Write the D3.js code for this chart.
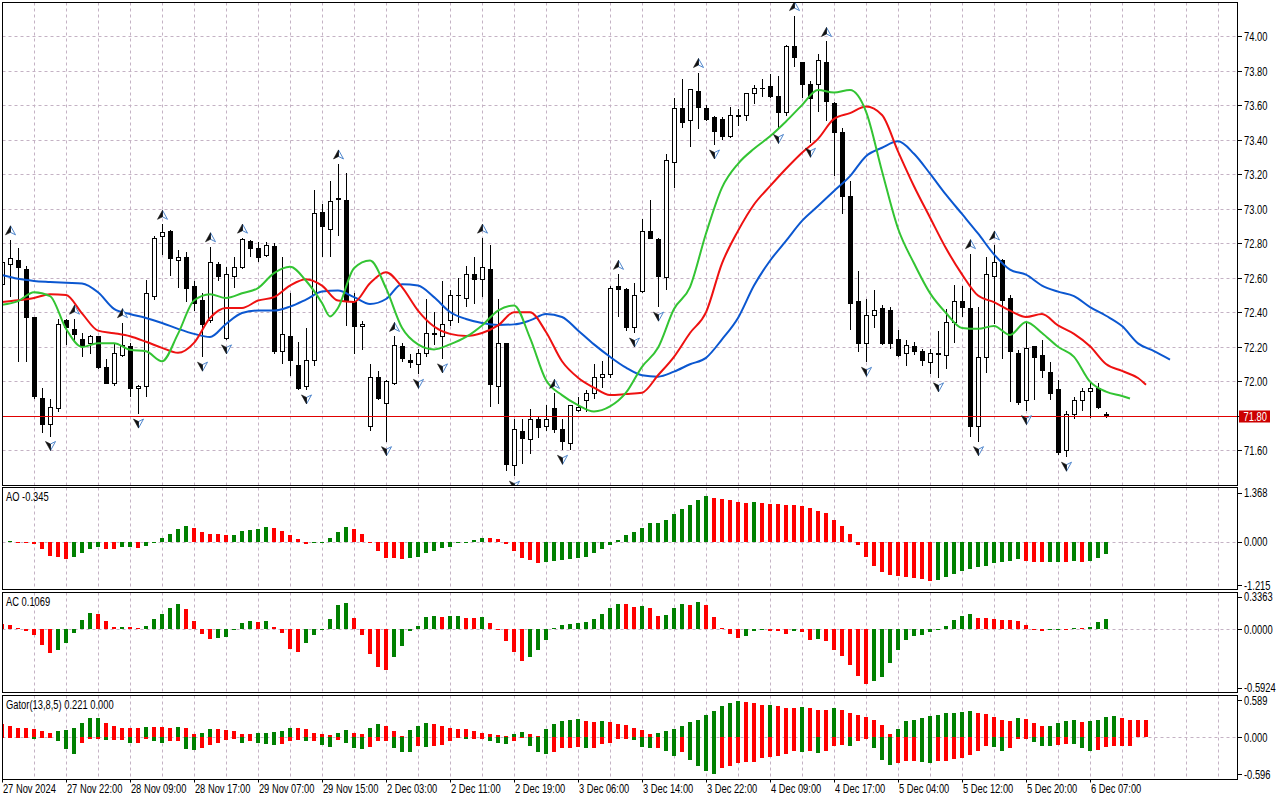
<!DOCTYPE html>
<html>
<head>
<meta charset="utf-8">
<script src="https://cdn.jsdelivr.net/npm/d3@7"></script>
<style>
  body { margin: 0; background: #fff; }
  svg { display: block; }
  text { font-family: "Liberation Sans", Arial, sans-serif; font-size: 12px; fill: #000; }
</style>
</head>
<body>
<svg id="chart" width="1280" height="800"></svg>
<script>
"use strict";

// ---- price data (H1 candles) ----
const opens = [72.56,72.68,72.70,72.65,72.37,71.90,71.75,71.84,72.35,72.30,
  72.24,72.22,72.26,72.08,71.99,72.15,72.20,71.96,71.97,72.49,
  72.84,72.87,72.70,72.72,72.55,72.47,72.35,72.68,72.25,72.61,
  72.66,72.81,72.77,72.73,72.78,72.17,72.26,72.09,71.97,72.12,
  72.98,72.88,73.06,73.05,72.46,72.32,71.74,72.02,71.87,71.99,
  72.20,72.12,72.10,72.16,72.27,72.26,72.35,72.50,72.48,72.62,
  72.59,72.65,71.97,72.22,71.51,71.71,71.66,71.78,71.74,71.84,
  71.72,71.64,71.83,71.89,71.93,72.02,72.04,72.55,72.53,72.31,
  72.52,72.87,72.82,72.60,73.27,73.58,73.51,73.68,73.58,73.53,
  73.52,73.42,73.54,73.54,73.67,73.70,73.71,73.65,73.56,73.94,
  73.85,73.72,73.72,73.85,73.61,73.44,73.07,72.46,72.22,72.38,
  72.42,72.41,72.24,72.16,72.20,72.17,72.11,72.16,72.15,72.34,
  72.46,72.42,71.74,72.14,72.61,72.70,72.48,72.16,71.89,72.20,
  72.15,72.05,71.95,71.60,71.81,71.89,71.94,71.96,71.81];
const highs = [72.70,72.82,72.77,72.67,72.37,71.96,71.90,72.36,72.36,72.36,
  72.28,72.27,72.26,72.13,72.22,72.34,72.22,71.98,72.59,72.84,
  72.91,72.88,72.76,72.75,72.58,72.51,72.78,72.69,72.66,72.72,
  72.83,72.82,72.81,72.81,72.80,72.72,72.51,72.23,72.31,73.11,
  73.03,73.16,73.26,73.21,72.51,72.35,72.10,72.06,72.01,72.26,
  72.22,72.16,72.19,72.48,72.40,72.58,72.53,72.60,72.67,72.72,
  72.83,72.79,72.48,72.22,71.78,71.78,71.84,71.80,71.86,71.93,
  71.78,71.86,71.91,71.95,72.10,72.12,72.55,72.62,72.54,72.57,
  72.94,73.05,72.83,73.32,73.64,73.75,73.69,73.79,73.60,73.54,
  73.53,73.59,73.58,73.67,73.72,73.75,73.78,73.77,73.95,74.12,
  73.85,73.74,73.90,73.97,73.62,73.47,73.16,72.64,72.48,72.53,
  72.44,72.43,72.30,72.24,72.23,72.19,72.19,72.29,72.42,72.56,
  72.55,72.74,72.43,72.72,72.79,72.71,72.50,72.18,72.34,72.20,
  72.24,72.11,72.01,71.83,71.91,71.96,71.99,71.99,71.82];
const lows = [72.55,72.49,72.11,72.11,71.90,71.70,71.68,71.82,72.21,72.23,
  72.14,72.16,72.07,71.99,71.97,72.14,71.91,71.81,71.91,72.47,
  72.73,72.61,72.54,72.46,72.41,72.14,72.34,72.58,72.24,72.54,
  72.65,72.72,72.69,72.72,72.16,72.10,72.03,71.95,71.95,72.09,
  72.72,72.72,72.84,72.32,72.16,72.18,71.71,71.89,71.65,71.98,
  72.11,72.08,72.04,72.14,72.21,72.13,72.32,72.34,72.43,72.45,
  72.49,71.85,71.87,71.48,71.45,71.52,71.58,71.67,71.71,71.70,
  71.60,71.60,71.82,71.82,71.90,71.96,72.02,72.37,72.29,72.28,
  72.51,72.83,72.43,72.53,73.12,73.47,73.36,73.46,73.51,73.37,
  73.40,73.41,73.48,73.51,73.61,73.65,73.64,73.46,73.54,73.82,
  73.64,73.38,73.56,73.51,73.19,72.97,72.30,72.17,72.11,72.31,
  72.21,72.19,72.14,72.09,72.15,72.09,72.04,72.02,72.07,72.22,
  72.37,71.68,71.65,72.05,72.33,72.13,71.88,71.86,71.83,71.89,
  72.02,71.89,71.57,71.56,71.78,71.83,71.79,71.84,71.79];
const closes = [72.69,72.71,72.66,72.37,71.91,71.75,71.85,72.33,72.31,72.27,
  72.20,72.26,72.08,71.99,72.16,72.21,71.96,71.97,72.51,72.83,
  72.86,72.71,72.72,72.54,72.45,72.33,72.69,72.61,72.62,72.66,
  72.82,72.77,72.72,72.79,72.17,72.27,72.12,71.96,72.12,72.97,
  72.90,73.04,73.06,72.46,72.32,72.33,72.02,71.90,72.00,72.21,
  72.13,72.11,72.16,72.28,72.28,72.33,72.50,72.50,72.62,72.59,
  72.66,71.98,72.22,71.52,71.72,71.67,71.78,71.73,71.78,71.72,
  71.65,71.86,71.85,71.93,72.02,72.04,72.54,72.53,72.31,72.50,
  72.87,72.83,72.61,73.28,73.58,73.50,73.69,73.59,73.52,73.45,
  73.42,73.54,73.54,73.67,73.70,73.70,73.65,73.56,73.94,73.88,
  73.72,73.64,73.86,73.62,73.44,73.07,72.45,72.22,72.38,72.41,
  72.22,72.22,72.15,72.21,72.17,72.12,72.16,72.16,72.34,72.46,
  72.43,71.74,72.14,72.62,72.69,72.47,72.17,71.88,72.19,72.14,
  72.06,71.93,71.59,71.81,71.89,71.94,71.96,71.85,71.80];
const lastPrice = 71.80;

// ---- Alligator lines: [bar, price] ----
const jaw = [[0,72.616],[2,72.594],[4,72.582],[6,72.576],[8,72.571],[10,72.567],[12,72.516],[14,72.42],
  [16,72.39],[18,72.367],[20,72.338],[22,72.304],[24,72.275],[26,72.257],[28,72.332],[30,72.396],
  [32,72.41],[34,72.41],[36,72.433],[38,72.474],[40,72.52],[42,72.526],[44,72.488],[46,72.448],
  [48,72.477],[50,72.563],[52,72.555],[54,72.488],[56,72.402],[58,72.361],[60,72.338],[62,72.327],
  [64,72.33],[66,72.353],[68,72.39],[70,72.373],[72,72.295],[74,72.214],[76,72.142],[78,72.079],
  [80,72.035],[82,72.027],[84,72.056],[86,72.099],[88,72.136],[90,72.243],[92,72.367],[94,72.555],
  [96,72.699],[98,72.814],[100,72.93],[102,73.016],[104,73.103],[106,73.189],[108,73.305],[110,73.354],
  [112,73.391],[114,73.319],[116,73.204],[118,73.082],[120,72.97],[122,72.857],[124,72.736],[126,72.647],
  [128,72.618],[130,72.555],[132,72.52],[134,72.494],[136,72.43],[138,72.38],[140,72.32],[142,72.22],
  [144,72.175],[146,72.126]];
const teeth = [[0,72.46],[2,72.47],[4,72.483],[6,72.505],[8,72.50],[10,72.394],[12,72.294],[14,72.279],
  [16,72.261],[18,72.229],[20,72.194],[22,72.165],[24,72.223],[26,72.367],[28,72.425],[30,72.425],
  [32,72.468],[34,72.488],[36,72.555],[38,72.592],[40,72.555],[42,72.468],[44,72.46],[46,72.569],
  [48,72.632],[50,72.546],[52,72.41],[54,72.318],[56,72.275],[58,72.263],[60,72.28],[62,72.324],
  [64,72.40],[66,72.40],[68,72.286],[70,72.116],[72,72.021],[74,71.963],[76,71.92],[78,71.926],
  [80,71.934],[82,72.035],[84,72.142],[86,72.28],[88,72.40],[90,72.684],[92,72.872],[94,73.025],
  [96,73.131],[98,73.232],[100,73.325],[102,73.405],[104,73.521],[106,73.555],[108,73.593],[110,73.544],
  [112,73.333],[114,73.131],[116,72.95],[118,72.771],[120,72.62],[122,72.497],[124,72.459],[126,72.41],
  [128,72.373],[130,72.39],[132,72.324],[134,72.275],[136,72.203],[138,72.10],[140,72.06],[142,72.019],
  [143,71.98]];
const lips = [[0,72.443],[2,72.465],[4,72.516],[6,72.494],[8,72.305],[10,72.199],[12,72.221],[14,72.221],
  [16,72.183],[18,72.174],[20,72.116],[22,72.275],[24,72.468],[26,72.505],[28,72.483],[30,72.51],
  [32,72.54],[34,72.627],[36,72.664],[38,72.583],[40,72.454],[41,72.376],[42,72.425],[44,72.655],
  [46,72.70],[48,72.54],[50,72.31],[52,72.214],[54,72.185],[56,72.214],[58,72.257],[60,72.324],
  [62,72.41],[64,72.44],[66,72.252],[68,72.007],[70,71.92],[72,71.862],[74,71.825],[76,71.854],
  [78,71.934],[80,72.084],[82,72.194],[84,72.419],[86,72.546],[88,72.857],[90,73.123],[92,73.261],
  [94,73.348],[96,73.42],[98,73.506],[100,73.601],[102,73.688],[104,73.674],[106,73.688],[108,73.564],
  [110,73.218],[112,72.886],[114,72.684],[116,72.511],[118,72.396],[120,72.309],[122,72.304],[124,72.321],
  [126,72.269],[128,72.344],[130,72.28],[132,72.20],[134,72.142],[136,71.998],[138,71.94],[140,71.915],
  [141,71.90]];

// ---- Fractals (bar indexes) ----
const fractalUp = [1, 9, 15, 20, 26, 30, 42, 49, 60, 69, 77, 87, 99, 103, 121, 124];
const fractalDown = [6, 17, 25, 28, 38, 48, 52, 55, 64, 70, 79, 82, 89, 97, 101, 108, 117, 122, 128, 133];

// ---- Awesome Oscillator ----
const aoValues = [0.00,0.02,-0.01,-0.01,-0.065,-0.22,-0.39,-0.44,-0.48,-0.44,
  -0.33,-0.21,-0.16,-0.20,-0.22,-0.165,-0.16,-0.19,-0.12,-0.01,
  0.09,0.21,0.35,0.43,0.38,0.26,0.21,0.21,0.18,0.19,
  0.29,0.32,0.36,0.40,0.38,0.29,0.18,0.06,-0.07,-0.05,
  -0.01,0.11,0.28,0.42,0.36,0.22,-0.01,-0.25,-0.45,-0.47,
  -0.50,-0.45,-0.42,-0.31,-0.25,-0.19,-0.14,-0.04,-0.01,0.04,
  0.11,0.105,0.06,-0.07,-0.25,-0.45,-0.52,-0.61,-0.57,-0.53,
  -0.51,-0.50,-0.47,-0.42,-0.33,-0.22,-0.10,0.04,0.19,0.28,
  0.39,0.52,0.53,0.61,0.78,0.92,1.03,1.17,1.28,1.23,
  1.18,1.17,1.11,1.09,1.10,1.09,1.06,1.06,1.03,1.03,
  1.00,0.95,0.86,0.81,0.61,0.45,0.22,-0.10,-0.42,-0.67,
  -0.84,-0.93,-0.97,-1.00,-1.03,-1.04,-1.09,-1.07,-1.00,-0.91,
  -0.82,-0.77,-0.72,-0.67,-0.60,-0.56,-0.53,-0.49,-0.53,-0.56,
  -0.58,-0.57,-0.56,-0.565,-0.55,-0.56,-0.53,-0.45,-0.345];

// ---- Accelerator Oscillator ----
const acValues = [0.055,0.05,0.014,-0.014,-0.058,-0.16,-0.24,-0.21,-0.14,-0.037,
  0.092,0.17,0.16,0.085,0.02,0.025,0.02,0.014,0.035,0.11,
  0.16,0.22,0.26,0.21,0.09,-0.05,-0.10,-0.086,-0.076,0.005,
  0.07,0.09,0.08,0.09,0.03,-0.035,-0.20,-0.23,-0.14,-0.06,
  -0.01,0.11,0.25,0.27,0.12,-0.06,-0.25,-0.385,-0.41,-0.28,
  -0.17,-0.02,0.04,0.13,0.14,0.13,0.137,0.14,0.12,0.12,
  0.125,0.07,-0.005,-0.12,-0.23,-0.32,-0.28,-0.21,-0.11,0.01,
  0.05,0.06,0.07,0.075,0.11,0.16,0.22,0.26,0.255,0.23,
  0.235,0.22,0.14,0.15,0.22,0.26,0.25,0.28,0.25,0.13,
  0.01,-0.05,-0.09,-0.07,-0.02,-0.01,-0.012,-0.02,-0.05,-0.02,
  -0.025,-0.11,-0.10,-0.12,-0.21,-0.27,-0.36,-0.48,-0.56,-0.53,
  -0.49,-0.34,-0.21,-0.11,-0.07,-0.06,-0.03,-0.01,0.04,0.10,
  0.14,0.16,0.12,0.118,0.11,0.10,0.098,0.09,0.05,-0.01,
  -0.02,-0.01,-0.005,-0.008,0.015,0.01,0.03,0.08,0.1069];

// ---- Gator Oscillator ----
const gatorUpper = [0.21,0.18,0.15,0.14,0.12,0.10,0.07,0.09,0.11,0.15,
  0.22,0.30,0.31,0.23,0.17,0.15,0.15,0.15,0.16,0.16,
  0.16,0.15,0.16,0.14,0.05,0.07,0.13,0.13,0.11,0.10,
  0.05,0.05,0.06,0.07,0.08,0.10,0.14,0.14,0.12,0.06,
  0.05,0.03,0.06,0.11,0.06,0.05,0.14,0.20,0.18,0.10,
  0.02,0.11,0.18,0.23,0.20,0.18,0.14,0.12,0.12,0.10,
  0.06,0.05,0.03,0.02,0.05,0.08,0.05,0.02,0.13,0.21,
  0.26,0.28,0.29,0.26,0.24,0.26,0.24,0.21,0.19,0.14,
  0.11,0.05,0.07,0.10,0.12,0.18,0.24,0.27,0.36,0.42,
  0.50,0.54,0.58,0.56,0.54,0.51,0.52,0.50,0.46,0.46,
  0.48,0.46,0.43,0.43,0.46,0.43,0.38,0.36,0.32,0.28,
  0.19,0.05,0.12,0.26,0.28,0.31,0.34,0.36,0.38,0.39,
  0.40,0.41,0.38,0.37,0.32,0.27,0.26,0.30,0.29,0.22,
  0.17,0.18,0.22,0.26,0.265,0.24,0.25,0.28,0.32,0.33,
  0.31,0.28,0.27,0.265];
const gatorLower = [-0.01,-0.01,-0.01,-0.01,-0.04,-0.01,-0.01,-0.07,-0.19,-0.27,
  -0.10,-0.04,-0.03,-0.05,-0.05,-0.05,-0.09,-0.09,-0.04,-0.06,
  -0.10,-0.06,-0.06,-0.20,-0.21,-0.18,-0.13,-0.10,-0.05,-0.04,
  -0.09,-0.06,-0.09,-0.12,-0.13,-0.12,-0.06,-0.05,-0.07,-0.06,
  -0.13,-0.16,-0.05,-0.09,-0.18,-0.20,-0.16,-0.06,-0.06,-0.18,
  -0.24,-0.25,-0.14,-0.16,-0.14,-0.13,-0.06,-0.02,-0.03,-0.03,
  -0.03,-0.07,-0.09,-0.12,-0.06,-0.02,-0.14,-0.24,-0.27,-0.24,
  -0.18,-0.18,-0.16,-0.18,-0.18,-0.12,-0.10,-0.04,-0.04,-0.05,
  -0.16,-0.18,-0.18,-0.22,-0.30,-0.24,-0.37,-0.46,-0.55,-0.59,
  -0.50,-0.46,-0.42,-0.40,-0.40,-0.34,-0.32,-0.30,-0.28,-0.22,
  -0.24,-0.22,-0.26,-0.22,-0.14,-0.13,-0.14,-0.06,-0.03,-0.18,
  -0.37,-0.45,-0.42,-0.38,-0.38,-0.40,-0.42,-0.38,-0.38,-0.36,
  -0.34,-0.29,-0.22,-0.14,-0.16,-0.22,-0.18,-0.04,-0.03,-0.08,
  -0.14,-0.15,-0.13,-0.11,-0.12,-0.18,-0.23,-0.21,-0.16,-0.15,
  -0.14,-0.14];

// ---- axis labels ----
const priceTicks = [71.60,71.80,72.00,72.20,72.40,72.60,72.80,73.00,73.20,73.40,73.60,73.80,74.00];
const aoTicks = [1.368, 0, -1.215];
const acTicks = [0.3363, 0, -0.5924];
const gatorTicks = [0.589, 0, -0.596];
const timeLabels = ["27 Nov 2024","27 Nov 22:00","28 Nov 09:00","28 Nov 17:00","29 Nov 07:00",
  "29 Nov 15:00","2 Dec 03:00","2 Dec 11:00","2 Dec 19:00","3 Dec 06:00","3 Dec 14:00",
  "3 Dec 22:00","4 Dec 09:00","4 Dec 17:00","5 Dec 04:00","5 Dec 12:00","5 Dec 20:00","6 Dec 07:00"];

// ---- layout ----
const LEFT = 2.5, RIGHT = 1237.5;
const panes = {
  main:  {top: 2.5,   bottom: 485.5},
  ao:    {top: 487.5, bottom: 589.5},
  ac:    {top: 592.5, bottom: 692.5},
  gator: {top: 695.5, bottom: 779.5}
};
const GREEN = "#008000", RED = "#ff0000";
const gridColor = "#c4b2c4";
const textScale = 0.78;

const svg = d3.select("#chart");

const xBar = d3.scaleLinear().domain([0, 138]).range([2, 1106]);
const yPrice = d3.scaleLinear().domain([71.60, 74.00]).range([450.3, 36.3]);
const yAO = d3.scaleLinear().domain([-1.215, 1.368]).range([585, 492.7]);
const yAC = d3.scaleLinear().domain([-0.5924, 0.3363]).range([687.5, 596.5]);
const yGator = d3.scaleLinear().domain([-0.596, 0.589]).range([774, 700.3]);

const candles = opens.map((o, i) => ({i, o, h: highs[i], l: lows[i], c: closes[i]}));
const gridBars = d3.range(4, 153, 4);
const labelBars = timeLabels.map((t, i) => i * 8);

const defs = svg.append("defs");
Object.entries(panes).forEach(([name, p]) => {
  defs.append("clipPath").attr("id", "clip-" + name)
    .append("rect").attr("x", LEFT).attr("y", p.top)
    .attr("width", RIGHT - LEFT).attr("height", p.bottom - p.top);
});

function paneGroup(name) {
  return svg.append("g").attr("clip-path", `url(#clip-${name})`);
}

function drawVerticalGrid(g, p) {
  g.append("g").selectAll("line").data(gridBars).join("line")
    .attr("x1", d => Math.round(xBar(d)) + 0.5).attr("x2", d => Math.round(xBar(d)) + 0.5)
    .attr("y1", p.top).attr("y2", p.bottom)
    .attr("stroke", gridColor).attr("stroke-dasharray", "3,3");
}

function drawHorizontalGrid(g, values, scale) {
  g.append("g").selectAll("line").data(values).join("line")
    .attr("x1", LEFT).attr("x2", RIGHT)
    .attr("y1", d => Math.round(scale(d)) + 0.5).attr("y2", d => Math.round(scale(d)) + 0.5)
    .attr("stroke", gridColor).attr("stroke-dasharray", "3,3");
}

function squeezeText(sel) {
  sel.selectAll("text").attr("transform", `scale(${textScale},1)`);
}

// ---- main pane ----
const mainG = paneGroup("main");
drawVerticalGrid(mainG, panes.main);
drawHorizontalGrid(mainG, priceTicks, yPrice);

const candleG = mainG.append("g").attr("shape-rendering", "crispEdges");
candleG.selectAll("line.wick").data(candles).join("line")
  .attr("class", "wick")
  .attr("x1", d => xBar(d.i) + 0.5).attr("x2", d => xBar(d.i) + 0.5)
  .attr("y1", d => yPrice(d.h)).attr("y2", d => yPrice(d.l))
  .attr("stroke", "#000");
candleG.selectAll("rect.body").data(candles).join("rect")
  .attr("class", "body")
  .attr("x", d => xBar(d.i) - 1.5)
  .attr("width", 4)
  .attr("y", d => yPrice(Math.max(d.o, d.c)))
  .attr("height", d => Math.max(0.6, Math.abs(yPrice(d.o) - yPrice(d.c))))
  .attr("fill", d => d.c >= d.o ? "#fff" : "#000")
  .attr("stroke", "#000");

// current price line
mainG.append("line")
  .attr("x1", LEFT).attr("x2", RIGHT)
  .attr("y1", Math.round(yPrice(lastPrice)) + 0.5).attr("y2", Math.round(yPrice(lastPrice)) + 0.5)
  .attr("stroke", "#e00000");

// alligator
const priceLine = d3.line().x(d => xBar(d[0])).y(d => yPrice(d[1])).curve(d3.curveMonotoneX);
[[jaw, "#0b57d0"], [teeth, "#ee1111"], [lips, "#33c433"]].forEach(([data, color]) => {
  mainG.append("path").datum(data)
    .attr("d", priceLine)
    .attr("fill", "none").attr("stroke", color).attr("stroke-width", 2)
    .attr("stroke-linejoin", "round");
});

// fractals: dark left half, blue-outlined right half
function drawFractals(bars, priceOf, offset, flip) {
  const s = flip ? -1 : 1;
  const g = mainG.append("g").selectAll("g").data(bars).join("g")
    .attr("transform", d => `translate(${xBar(d) + 0.5},${yPrice(priceOf(d)) + offset})`);
  g.append("path")
    .attr("d", `M0,${-5 * s} L5,${4 * s} L0,${1.5 * s} Z`)
    .attr("fill", "#fff").attr("stroke", "#4f86cc").attr("stroke-width", 1)
    .attr("stroke-linejoin", "round");
  g.append("path")
    .attr("d", `M0,${-5 * s} L-5,${4 * s} L0,${1.5 * s} Z`)
    .attr("fill", "#111").attr("stroke", "#111").attr("stroke-width", 0.6)
    .attr("stroke-linejoin", "round");
}
drawFractals(fractalUp, d => highs[d], -9, false);
drawFractals(fractalDown, d => lows[d], 9, true);

// ---- oscillator panes ----
function risingColor(arr, i) { return i > 0 && arr[i] > arr[i - 1] ? GREEN : RED; }
function widerColor(arr, i) { return i > 0 && Math.abs(arr[i]) > Math.abs(arr[i - 1]) ? GREEN : RED; }

function drawHist(g, values, scale, colorFn) {
  const zero = scale(0);
  g.append("g").attr("shape-rendering", "crispEdges")
    .selectAll("rect").data(values).join("rect")
    .attr("x", (d, i) => xBar(i) - 2)
    .attr("width", 4)
    .attr("y", d => Math.min(zero, scale(d)))
    .attr("height", d => d === 0 ? 0 : Math.max(1, Math.abs(scale(d) - zero)))
    .attr("fill", (d, i) => colorFn(values, i));
}

function paneTitle(p, label) {
  svg.append("text")
    .attr("transform", `translate(6,${p.top + 13.5}) scale(${textScale},1)`)
    .text(label);
}

const aoG = paneGroup("ao");
drawVerticalGrid(aoG, panes.ao);
drawHorizontalGrid(aoG, [0], yAO);
drawHist(aoG, aoValues, yAO, risingColor);
paneTitle(panes.ao, "AO -0.345");

const acG = paneGroup("ac");
drawVerticalGrid(acG, panes.ac);
drawHorizontalGrid(acG, [0], yAC);
drawHist(acG, acValues, yAC, risingColor);
paneTitle(panes.ac, "AC 0.1069");

const gatorG = paneGroup("gator");
drawVerticalGrid(gatorG, panes.gator);
drawHorizontalGrid(gatorG, [0], yGator);
drawHist(gatorG, gatorUpper, yGator, widerColor);
drawHist(gatorG, gatorLower, yGator, widerColor);
paneTitle(panes.gator, "Gator(13,8,5) 0.221 0.000");

// ---- right-hand scales ----
function rightAxis(scale, ticks, digits) {
  const axis = d3.axisRight(scale).tickValues(ticks).tickSize(4).tickPadding(2)
    .tickFormat(d => d.toFixed(digits));
  const g = svg.append("g").attr("transform", `translate(${RIGHT},0)`).call(axis);
  g.select(".domain").remove();
  g.selectAll(".tick line").attr("shape-rendering", "crispEdges");
  g.selectAll("text").attr("x", 6.5 / textScale).attr("dy", "0.35em");
  squeezeText(g);
  return g;
}
rightAxis(yPrice, priceTicks, 2);
rightAxis(yAO, aoTicks, 3);
rightAxis(yAC, acTicks, 4);
rightAxis(yGator, gatorTicks, 3);

// last price tag
const tagY = yPrice(lastPrice);
svg.append("rect")
  .attr("x", RIGHT + 1.5).attr("y", Math.round(tagY) - 5.5)
  .attr("width", 31).attr("height", 12)
  .attr("fill", "#cc0000");
svg.append("text")
  .attr("transform", `translate(${RIGHT + 6},${Math.round(tagY) + 4.5}) scale(${textScale},1)`)
  .style("fill", "#fff")
  .text(lastPrice.toFixed(2));

// ---- time scale ----
const timeAxis = d3.axisBottom(xBar).tickValues(labelBars).tickSize(3).tickPadding(2)
  .tickFormat((d, i) => timeLabels[i]);
const tg = svg.append("g").attr("transform", `translate(0,${panes.gator.bottom})`).call(timeAxis);
tg.select(".domain").remove();
tg.attr("text-anchor", "start");
tg.selectAll("text").attr("x", 0.5);
squeezeText(tg);

// ---- pane frames ----
Object.values(panes).forEach(p => {
  svg.append("rect")
    .attr("x", LEFT).attr("y", p.top)
    .attr("width", RIGHT - LEFT).attr("height", p.bottom - p.top)
    .attr("fill", "none").attr("stroke", "#000")
    .attr("shape-rendering", "crispEdges");
});
</script>
</body>
</html>
